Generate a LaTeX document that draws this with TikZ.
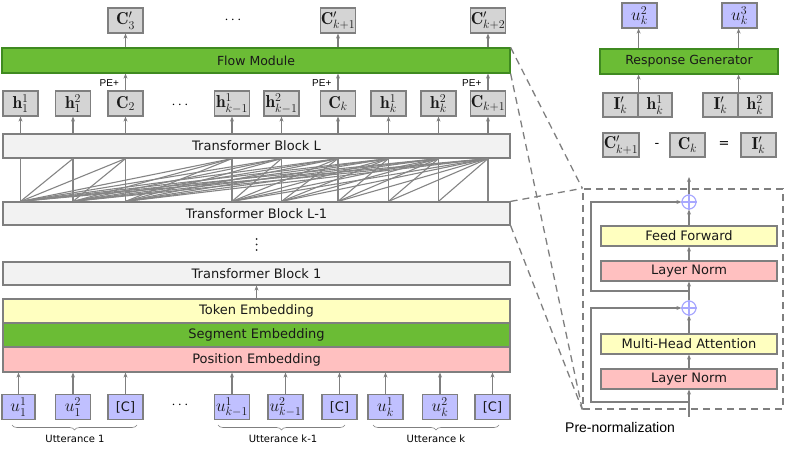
\documentclass[tikz,border=0pt]{standalone}
\usepackage{fontspec}
\newfontfamily\lab{DejaVu Sans}
\newfontfamily\arl{Liberation Sans}
\usetikzlibrary{arrows.meta,decorations.pathreplacing}
\definecolor{bord}{HTML}{7F7F7F}
\definecolor{boxgray}{HTML}{D4D4D4}
\definecolor{tokblue}{HTML}{C0C0FF}
\definecolor{flowgreen}{HTML}{6BBC35}
\definecolor{greenbord}{HTML}{3F8A20}
\definecolor{tbgray}{HTML}{F2F2F2}
\definecolor{ylw}{HTML}{FFFFC0}
\definecolor{pnk}{HTML}{FFC0C0}
\definecolor{opc}{HTML}{A8A8FF}
\definecolor{latt}{HTML}{858585}
\newcommand\myMath{\fontsize{17.28}{21}\selectfont}
\newcommand\myLab{\lab\fontsize{13}{15}\selectfont}
\tikzset{
  base/.style={draw=bord, line width=1.2pt, inner sep=0pt, minimum height=25pt, text=black!90},
  gbox/.style={base, fill=boxgray, minimum width=35pt, font=\myMath},
  ubox/.style={base, fill=tokblue, minimum width=35pt, font=\myMath},
  wide/.style={base, fill=tbgray, minimum width=507pt, minimum height=24pt, font=\myLab},
  grn/.style={base, fill=flowgreen, draw=greenbord, font=\lab\fontsize{12.5}{14}\selectfont},
  inbox/.style={base, minimum width=176pt, minimum height=20pt, font=\myLab},
  arr/.style={draw=bord, line width=1.2pt, -{Stealth[length=5pt,width=4pt]}},
  dsh/.style={draw=bord, line width=1.3pt, dash pattern=on 7pt off 5pt},
  opl/.style={circle, draw=opc, line width=1.2pt, minimum size=14pt, inner sep=0pt},
  brc/.style={draw=bord, line width=0.6pt, decorate, decoration={brace, amplitude=5pt}},
  small/.style={font=\lab\fontsize{10}{12}\selectfont},
  pe/.style={font=\arl\fontsize{10}{12}\selectfont, anchor=east, inner sep=0pt},
  dotsn/.style={font=\fontsize{14}{16}\selectfont, inner sep=0pt}
}
\begin{document}
\begin{tikzpicture}[x=1pt,y=-1pt]
\useasboundingbox (0,0) rectangle (785,454);

% ---------- top C' row ----------
\node[gbox] (cp1) at (125.5,20.5) {$\mathbf{C}'_3$};
\node[dotsn] (dtop) at (233,20) {$\cdots$};
\node[gbox] (cp2) at (338,20.5) {$\mathbf{C}'_{k+1}$};
\node[gbox] (cp3) at (488,20.5) {$\mathbf{C}'_{k+2}$};

% ---------- flow module ----------
\node[grn, minimum width=508pt] (flow) at (256,60.5) {Flow Module};

% ---------- h row ----------
\node[gbox] (h1) at (20.5,103.5) {$\mathbf{h}_1^1$};
\node[gbox] (h2) at (73,103.5) {$\mathbf{h}_1^2$};
\node[gbox] (h3) at (125.5,103.5) {$\mathbf{C}_2$};
\node[dotsn] (dmid) at (180,105) {$\cdots$};
\node[gbox] (h4) at (232,103.5) {$\mathbf{h}_{k-1}^1$};
\node[gbox] (h5) at (281.5,103.5) {$\mathbf{h}_{k-1}^2$};
\node[gbox] (h6) at (338,103.5) {$\mathbf{C}_k$};
\node[gbox] (h7) at (388.5,103.5) {$\mathbf{h}_k^1$};
\node[gbox] (h8) at (438.5,103.5) {$\mathbf{h}_k^2$};
\node[gbox] (h9) at (488,103.5) {$\mathbf{C}_{k+1}$};

% arrows to C'
\draw[arr] (flow.north -| cp1) -- (cp1.south);
\draw[arr] (flow.north -| cp2) -- (cp2.south);
\draw[arr] (flow.north -| cp3) -- (cp3.south);
% PE+ arrows
\draw[arr] (h3.north) -- (h3.north |- flow.south) node[pe, pos=0.45, xshift=-6pt] {PE+};
\draw[arr] (h6.north) -- (h6.north |- flow.south) node[pe, pos=0.45, xshift=-6pt] {PE+};
\draw[arr] (h9.north) -- (h9.north |- flow.south) node[pe, pos=0.45, xshift=-6pt] {PE+};

% ---------- transformer blocks ----------
\node[wide] (tbL) at (256.5,146) {Transformer Block L};
\node[wide, minimum height=23pt] (tbLm) at (256.5,213.5) {Transformer Block L-1};
\fill[black!85] (256.5,239) circle (1pt) (256.5,244.5) circle (1pt) (256.5,250) circle (1pt);
\node[wide, minimum height=23pt] (tb1) at (256.5,273.5) {Transformer Block 1};

\foreach \i in {1,...,9}{
  \draw[arr] (tbL.north -| h\i) -- (h\i.south);
  \coordinate (t\i) at (tbL.south -| h\i);
  \coordinate (b\i) at (tbLm.north -| h\i);
}
\foreach \i in {1,...,9}{
  \foreach \j in {\i,...,9}{
    \draw[latt, line width=1.1pt] (b\i) -- (t\j);
  }
}

% ---------- embeddings ----------
\node[wide, fill=ylw] (tok) at (256.5,311) {Token Embedding};
\node[wide, fill=flowgreen] (seg) at (256.5,335) {Segment Embedding};
\node[wide, fill=pnk, minimum height=25pt] (pos) at (256.5,359.5) {Position Embedding};
\draw[arr] (tok.north) -- (tb1.south);

% ---------- tokens ----------
\node[ubox, minimum width=33pt] (u1) at (18.5,407) {$u_1^1$};
\node[ubox] (u2) at (73,407) {$u_1^2$};
\node[ubox, font=\myLab] (u3) at (125.5,407) {[C]};
\node[dotsn] (dbot) at (180,405) {$\cdots$};
\node[ubox] (u4) at (232,407) {$u_{k-1}^1$};
\node[ubox] (u5) at (285.5,407) {$u_{k-1}^2$};
\node[ubox, font=\myLab] (u6) at (339.5,407) {[C]};
\node[ubox] (u7) at (385.5,407) {$u_k^1$};
\node[ubox] (u8) at (440,407) {$u_k^2$};
\node[ubox, font=\myLab] (u9) at (492.5,407) {[C]};
\foreach \i in {1,...,9}{
  \draw[arr] (u\i.north) -- (u\i.north |- pos.south);
}

% braces
\draw[brc] (137,425) -- (12,425);
\draw[brc] (345,425) -- (218,425);
\draw[brc] (499,425) -- (373,425);
\node[small] (ut1) at (75,439) {Utterance 1};
\node[small] (ut2) at (283,439) {Utterance k-1};
\node[small] (ut3) at (436,439) {Utterance k};

% ---------- right top panel ----------
\node[ubox] (uk2) at (639.5,15.5) {$u_k^2$};
\node[ubox] (uk3) at (739.5,15.5) {$u_k^3$};
\node[grn, minimum width=178pt] (rg) at (689,61.5) {Response Generator};
\node[gbox, minimum height=24pt] (p1a) at (620.5,105) {$\mathbf{I}'_k$};
\node[gbox, minimum height=24pt, minimum width=34pt] (p1b) at (655,105) {$\mathbf{h}_k^1$};
\node[gbox, minimum height=24pt] (p2a) at (720.5,105) {$\mathbf{I}'_k$};
\node[gbox, minimum height=24pt, minimum width=34pt] (p2b) at (755,105) {$\mathbf{h}_k^2$};
\draw[arr] (p1a.north east) -- (p1a.north east |- rg.south);
\draw[arr] (p2a.north east) -- (p2a.north east |- rg.south);
\draw[arr] (rg.north -| p1a.north east) -- (uk2.south -| p1a.north east);
\draw[arr] (rg.north -| p2a.north east) -- (uk3.south -| p2a.north east);

\node[gbox, minimum height=24pt, minimum width=36pt] (e1) at (621,145) {$\mathbf{C}'_{k+1}$};
\node[font=\myLab] (minus) at (657,145) {-};
\node[gbox, minimum height=24pt] (e2) at (687.5,145) {$\mathbf{C}_k$};
\node[font=\myLab] (eq) at (724,145) {=};
\node[gbox, minimum height=24pt] (e3) at (758.5,145) {$\mathbf{I}'_k$};

% ---------- pre-normalization block ----------
\node[dsh, minimum width=200pt, minimum height=220pt, inner sep=0pt] (pre) at (683,299) {};
\draw[dsh] (flow.north east) -- (pre.north west);
\draw[dsh] (flow.south east) -- (pre.south west);
\draw[dsh] (tbLm.north east) -- (pre.north west);
\draw[dsh] (tbLm.south east) -- (pre.south west);

\node[inbox, fill=ylw] (ff) at (689,236) {Feed Forward};
\node[inbox, fill=pnk] (ln2) at (689,271) {Layer Norm};
\node[inbox, fill=ylw] (mha) at (689,344) {Multi-Head Attention};
\node[inbox, fill=pnk] (ln1) at (689,379) {Layer Norm};
\node[opl] (op2) at (689,202) {};
\node[opl] (op1) at (689,308) {};
\draw[opc, line width=1.2pt] (op1.north) -- (op1.south) (op1.west) -- (op1.east);
\draw[opc, line width=1.2pt] (op2.north) -- (op2.south) (op2.west) -- (op2.east);

\coordinate (inp) at (689,417);
\coordinate (outp) at (689,177);
\coordinate (r1) at (689,402);
\coordinate (r2) at (689,291);
\draw[arr] (inp) -- (ln1.south);
\draw[arr] (ln1.north) -- (mha.south);
\draw[arr] (mha.north) -- (op1.south);
\draw[arr] (op1.north) -- (ln2.south);
\draw[arr] (ln2.north) -- (ff.south);
\draw[arr] (ff.north) -- (op2.south);
\draw[arr] (op2.north) -- (outp);
\draw[arr] (r1) -- (591,402) |- (op1.west);
\draw[arr] (r2) -- (591,291) |- (op2.west);

\node[anchor=west, inner sep=0pt, font=\arl\fontsize{14}{16}\selectfont] (prelab) at (565,427) {Pre-normalization};
\end{tikzpicture}
\end{document}
